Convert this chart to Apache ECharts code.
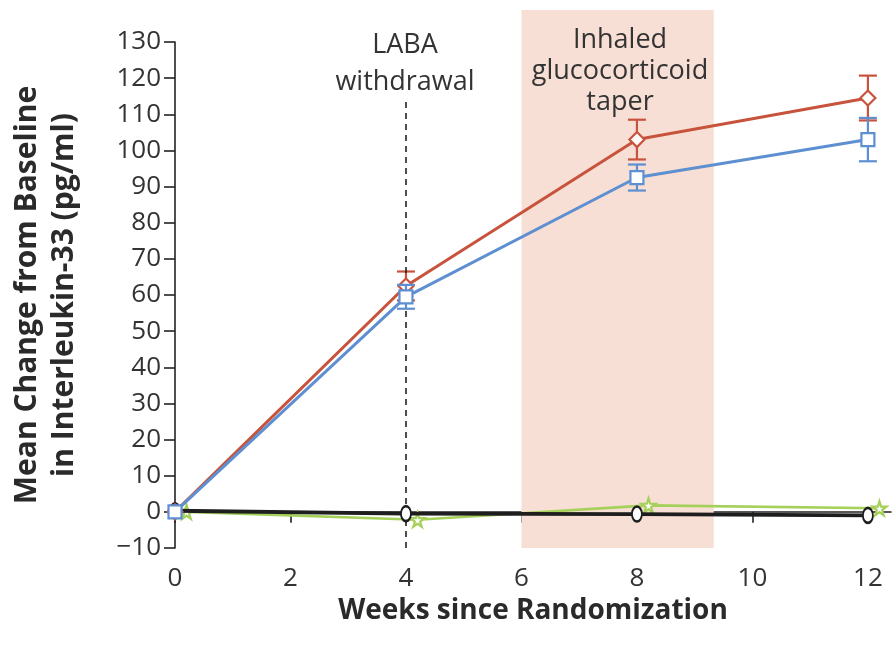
<!DOCTYPE html>
<html><head><meta charset="utf-8">
<script src="https://cdn.jsdelivr.net/npm/echarts@6/dist/echarts.min.js"></script>
<style>html,body{margin:0;padding:0;background:#fff}#c{width:896px;height:653px}</style>
</head><body><div id="c"></div>
<script>
// ---- data ----
const weeks = [0, 4, 8, 12];
const redMean = [0, 62.5, 103, 114.5];
const redErr = [0, 4, 5.5, 6.2];
const blueMean = [0, 59.5, 92.5, 103];
const blueErr = [0, 3.3, 3.6, 6];
const greenMean = [0, -2.2, 1.8, 1.0];
const blackMean = [0.3, -0.5, -0.6, -1.0];
const greenShift = 0.2;            // small horizontal jitter of the green series
const taperStart = 6, taperEnd = 9.33;
const labaWeek = 4, labaLineTop = 114;
const xTicks = [0, 2, 4, 6, 8, 10, 12];
const yMin = -10, yMax = 130, yStep = 10;
const labaText = ['LABA', 'withdrawal'];
const taperText = ['Inhaled', 'glucocorticoid', 'taper'];

const FONT = "'Open Sans', 'DejaVu Sans', sans-serif";
const RED = '#c8533c', BLUE = '#5e8fd0', GREEN = '#a5d05a', BLACK = '#1e1e1e';
const STAR = 'path://M50,0 L61,35 L98,35 L68,57 L79,91 L50,70 L21,91 L32,57 L2,35 L39,35 Z';

function pts(xs, ys, dx) { return xs.map((x, i) => [x + (dx || 0), ys[i]]); }
function errs(xs, m, e) { return xs.map((x, i) => [x, m[i] - e[i], m[i] + e[i]]); }

function errSeries(color, data, z) {
  return {
    type: 'custom', xAxisIndex: 0, yAxisIndex: 0, z: z, silent: true,
    data: data.filter(d => d[2] - d[1] > 0.01),
    renderItem(params, api) {
      const x = api.value(0);
      const lo = api.coord([x, api.value(1)]);
      const hi = api.coord([x, api.value(2)]);
      const w = 9;
      const st = { stroke: color, lineWidth: 2.2 };
      return { type: 'group', children: [
        { type: 'line', shape: { x1: lo[0], y1: lo[1], x2: hi[0], y2: hi[1] }, style: st },
        { type: 'line', shape: { x1: lo[0] - w, y1: lo[1], x2: lo[0] + w, y2: lo[1] }, style: st },
        { type: 'line', shape: { x1: hi[0] - w, y1: hi[1], x2: hi[0] + w, y2: hi[1] }, style: st }
      ]};
    }
  };
}

function lineSeries(color, data, symbol, size, lw, z) {
  return {
    type: 'line', xAxisIndex: 0, yAxisIndex: 0, data, symbol, symbolSize: size, z: z,
    lineStyle: { color, width: lw },
    itemStyle: { color: '#fff', borderColor: color, borderWidth: 2.2 },
    showAllSymbol: true, silent: true
  };
}

function textLines(lines, cx, y0, step) {
  return lines.map((t, i) => ({
    type: 'text', z: 10, silent: true,
    style: { x: cx, y: y0 + i * step, text: t, align: 'center', verticalAlign: 'middle',
      fill: '#333', font: '27px ' + FONT }
  }));
}

const chart = echarts.init(document.getElementById('c'), null, { renderer: 'canvas' });
chart.setOption({
  animation: false,
  grid: [
    { left: 175, top: 42, width: 716, height: 506 },
    { left: 175, top: 10, width: 716, height: 538 }
  ],
  xAxis: [
    { type: 'value', gridIndex: 0, min: 0, max: 12.4, interval: 2,
      axisLine: { lineStyle: { color: '#222', width: 1.6 } },
      axisTick: { show: true, length: 11, lineStyle: { color: '#222', width: 1.6 } },
      axisLabel: { color: '#333', fontSize: 26, fontFamily: FONT, margin: 18,
        formatter: v => xTicks.includes(v) ? String(v) : '', showMaxLabel: false },
      splitLine: { show: false },
      name: 'Weeks since Randomization', nameLocation: 'middle', nameGap: 48,
      nameTextStyle: { color: '#2a2a2a', fontSize: 28, fontWeight: 'bold', fontFamily: FONT },
    },
    { type: 'value', gridIndex: 1, min: 0, max: 12.4, show: false }
  ],
  yAxis: [
    { type: 'value', gridIndex: 0, min: yMin, max: yMax, interval: yStep,
      axisLine: { show: true, lineStyle: { color: '#222', width: 1.6 } },
      axisTick: { show: true, length: 11, lineStyle: { color: '#222', width: 1.6 } },
      axisLabel: { color: '#333', fontSize: 26, fontFamily: FONT, margin: 14,
        formatter: v => v < 0 ? '\u2212' + Math.abs(v) : String(v) },
      splitLine: { show: false },
      name: 'Mean Change from Baseline\nin Interleukin-33 (pg/ml)', nameLocation: 'middle', nameGap: 92,
      nameRotate: 90,
      nameTextStyle: { color: '#2a2a2a', fontSize: 30, fontWeight: 'bold', fontFamily: FONT, lineHeight: 37 }
    },
    { type: 'value', gridIndex: 1, min: 0, max: 1, show: false }
  ],
  graphic: [].concat(textLines(labaText, 405, 45, 37), textLines(taperText, 620, 40, 31)),
  series: [
    { type: 'line', xAxisIndex: 1, yAxisIndex: 1, data: [], z: 0, silent: true,
      markArea: { silent: true, itemStyle: { color: '#f7dfd5' },
        data: [[{ coord: [taperStart, 0] }, { coord: [taperEnd, 1] }]] } },
    { type: 'line', xAxisIndex: 0, yAxisIndex: 0, data: [], z: 1, silent: true,
      markLine: { silent: true, symbol: 'none', label: { show: false },
        lineStyle: { color: '#222', type: [6, 5], width: 1.6 },
        data: [[{ coord: [labaWeek, yMin] }, { coord: [labaWeek, labaLineTop] }]] } },
    errSeries(RED, errs(weeks, redMean, redErr), 3),
    lineSeries(GREEN, pts(weeks, greenMean, greenShift), STAR, 14, 2.6, 4),
    lineSeries(BLACK, pts(weeks, blackMean), 'circle', [10, 15], 3.8, 5),
    lineSeries(RED, pts(weeks, redMean), 'diamond', 15, 3, 6),
    errSeries(BLUE, errs(weeks, blueMean, blueErr), 7),
    lineSeries(BLUE, pts(weeks, blueMean), 'rect', 13, 3, 8)
  ]
});
</script></body></html>
